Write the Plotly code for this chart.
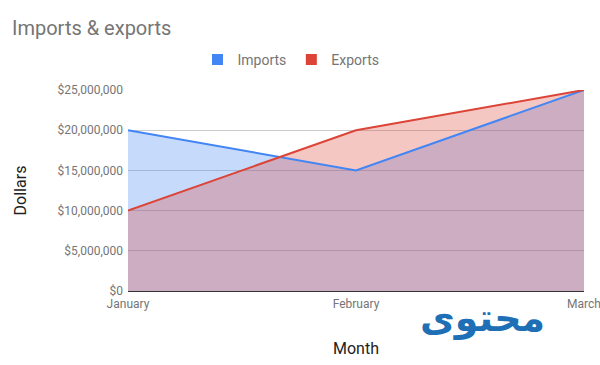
import plotly.graph_objects as go

months = ["January", "February", "March"]
imports = [20000000, 15000000, 25000000]
exports = [10000000, 20000000, 25000000]
y_ticks = [0, 5000000, 10000000, 15000000, 20000000, 25000000]
y_tick_text = ["$0", "$5,000,000", "$10,000,000", "$15,000,000", "$20,000,000", "$25,000,000"]

BLUE = "#4285f4"
RED = "#db4437"

W, H = 600, 365

fig = go.Figure()
# area fills first
fig.add_trace(go.Scatter(x=months, y=imports, mode="none", fill="tozeroy",
                         fillcolor="rgba(66,133,244,0.3)", showlegend=False, hoverinfo="skip"))
fig.add_trace(go.Scatter(x=months, y=exports, mode="none", fill="tozeroy",
                         fillcolor="rgba(219,68,55,0.3)", showlegend=False, hoverinfo="skip"))
# lines on top
fig.add_trace(go.Scatter(x=months, y=imports, name="Imports", mode="lines",
                         line=dict(color=BLUE, width=2), showlegend=False))
fig.add_trace(go.Scatter(x=months, y=exports, name="Exports", mode="lines",
                         line=dict(color=RED, width=2), showlegend=False))
# legend squares
for nm, col in [("Imports", BLUE), ("Exports", RED)]:
    fig.add_trace(go.Scatter(x=[None], y=[None], name=nm, mode="markers",
                             marker=dict(symbol="square", size=11, color=col)))

fig.update_layout(
    width=W, height=H,
    margin=dict(l=128, r=16, t=90, b=74),
    paper_bgcolor="white", plot_bgcolor="white",
    font=dict(family="Roboto, Arial, sans-serif", color="#757575", size=12),
    title=dict(text="Imports & exports", x=12/W, xref="container", xanchor="left",
               y=1-28/H, yref="container", yanchor="middle", pad=dict(t=0, b=0, l=0, r=0),
               font=dict(size=20, color="#757575")),
    legend=dict(orientation="h", x=291/W, xref="container", xanchor="center",
                y=1-60/H, yref="container", yanchor="middle",
                font=dict(size=14, color="#757575"), itemwidth=30),
    xaxis=dict(type="category", range=[0, 2], showgrid=False, ticks="", automargin=False,
               ticklabelstandoff=4,
               title=dict(text="Month", font=dict(size=16, color="#222222"), standoff=32),
               tickfont=dict(size=12, color="#757575")),
    yaxis=dict(range=[0, 25000000], tickvals=y_ticks, ticktext=y_tick_text, automargin=False,
               ticklabelstandoff=4,
               showgrid=True, gridcolor="#cccccc", gridwidth=1,
               zeroline=True, zerolinecolor="#333333", zerolinewidth=1,
               title=dict(text="Dollars", font=dict(size=16, color="#222222"), standoff=26),
               tickfont=dict(size=12, color="#757575")),
)

fig.add_annotation(text="<b>محتوى</b>", xref="paper", yref="paper", x=(482-128)/456, y=-(318-291)/201,
                   showarrow=False, font=dict(size=38, color="#1e6fb5", family="DejaVu Sans"),
                   xanchor="center", yanchor="middle")

fig.write_html("out.html",
               config={"displayModeBar": False},
               post_script="document.body.style.margin='0px';document.body.style.overflow='hidden';")
